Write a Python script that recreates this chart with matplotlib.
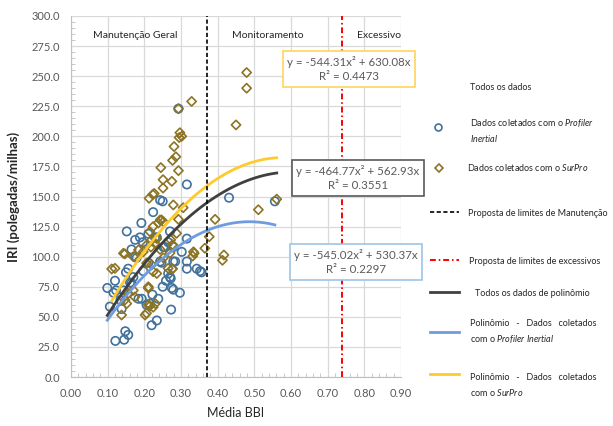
import numpy as np
import matplotlib
matplotlib.use("Agg")
import matplotlib.pyplot as plt
from matplotlib.lines import Line2D
from matplotlib.ticker import MultipleLocator, FormatStrFormatter

plt.rcParams['font.family'] = ['Lato', 'DejaVu Sans']
plt.rcParams['mathtext.fontset'] = 'custom'
plt.rcParams['mathtext.rm'] = 'Lato'
plt.rcParams['mathtext.it'] = 'Lato:italic'

# Profiler Inertial (circles)
pi_x = [0.099, 0.106, 0.120, 0.123, 0.121, 0.145, 0.148, 0.156, 0.152, 0.150,
        0.156, 0.138, 0.135, 0.175, 0.179, 0.192, 0.188, 0.170, 0.165, 0.193,
        0.197, 0.211, 0.224, 0.215, 0.222, 0.238, 0.220, 0.234, 0.247, 0.250,
        0.259, 0.265, 0.272, 0.275, 0.273, 0.279, 0.284, 0.279, 0.297, 0.316,
        0.316, 0.316, 0.302, 0.343, 0.352, 0.279, 0.265, 0.252, 0.234, 0.293,
        0.316, 0.243, 0.250, 0.431, 0.556, 0.270, 0.229, 0.196, 0.175, 0.116,
        0.143, 0.161, 0.243, 0.270, 0.206, 0.184, 0.165, 0.256, 0.356, 0.211]
pi_y = [74, 58.5, 80, 72, 30, 31, 38, 35, 121, 87,
        90, 56.5, 64, 114, 99, 128, 116, 83, 78, 65,
        88, 119, 137, 61, 68.5, 65, 43, 47, 95, 75,
        80, 86, 82, 74, 56, 72.6, 96, 96, 70, 115,
        96, 90, 104, 90, 88, 108, 112, 108, 116, 223,
        160, 147, 146, 149, 146, 121, 116, 112, 100, 70,
        72, 78.5, 96, 83, 60, 65, 106, 108, 87, 95]

# SurPro (diamonds)
sp_x = [0.329, 0.293, 0.297, 0.295, 0.302, 0.281, 0.286, 0.277, 0.293, 0.245,
        0.251, 0.275, 0.251, 0.213, 0.223, 0.227, 0.279, 0.306, 0.479, 0.479,
        0.450, 0.511, 0.561, 0.393, 0.243, 0.377, 0.365, 0.417, 0.413, 0.336,
        0.332, 0.288, 0.272, 0.277, 0.265, 0.276, 0.234, 0.211, 0.211, 0.215,
        0.206, 0.202, 0.224, 0.143, 0.147, 0.111, 0.120, 0.138, 0.147, 0.152,
        0.156, 0.170, 0.174, 0.170, 0.184, 0.197, 0.206, 0.215, 0.224, 0.238,
        0.247, 0.252, 0.220, 0.229, 0.234, 0.243, 0.252, 0.206, 0.220, 0.293,
        0.218, 0.270, 0.277, 0.334, 0.224, 0.211, 0.230]
sp_y = [229, 223, 203, 199, 200, 191.5, 183, 180, 171.5, 174,
        164, 162.6, 157, 148.5, 151.7, 152.5, 143, 140.7, 253, 240,
        209.5, 139, 147.8, 131, 130.5, 116.6, 107, 101.4, 97, 102.8,
        100.5, 119.4, 114, 110, 90.3, 89.8, 86, 73.7, 60, 59,
        53, 51.5, 58, 102.8, 102.3, 89.8, 90.3, 51.5, 64, 61,
        69.5, 72, 66.5, 100, 105.6, 104, 109.6, 120.8, 125, 128,
        130.5, 129, 114, 111, 115, 106, 99, 94.6, 93.2, 131,
        108, 103, 90, 104, 87.5, 75, 61]

# trend line coefficients (a*x^2 + b*x) and R2
fit_all = (-464.77, 562.93, 0.3551)
fit_pi = (-545.02, 530.37, 0.2297)
fit_sp = (-544.31, 630.08, 0.4473)

lim_manut = 0.37
lim_exc = 0.74

c_pi = '#41719C'
c_sp = '#8C7424'
c_all = '#404040'
c_pil = '#6F9BDF'
c_spl = '#FFCA2C'

fig = plt.figure(figsize=(6.13, 4.26), dpi=100)
ax = fig.add_axes([71 / 613, 1 - 377 / 426, 330 / 613, 361 / 426])

ax.scatter(pi_x, pi_y, s=36, marker='o', facecolors='none', edgecolors=c_pi, linewidths=1.2, zorder=3)
ax.scatter(sp_x, sp_y, s=22, marker='D', facecolors='none', edgecolors=c_sp, linewidths=1.2, zorder=3)


def curve(fit, xs):
    xx = np.linspace(min(xs), max(xs), 100)
    return xx, fit[0] * xx ** 2 + fit[1] * xx


xa, ya = curve(fit_all, pi_x + sp_x)
xb, yb = curve(fit_pi, pi_x)
xc, yc = curve(fit_sp, sp_x)
ax.plot(xb, yb, color=c_pil, lw=2, zorder=4)
ax.plot(xc, yc, color=c_spl, lw=2, zorder=4)
ax.plot(xa, ya, color=c_all, lw=2, zorder=4)

ax.axvline(lim_manut, color='black', lw=1.2, dashes=[2.5, 1.5], zorder=5)
ax.axvline(lim_exc, color='#FF0000', lw=1.4, dashes=[3, 1.5, 0.8, 1.5], zorder=5)

ax.set_xlim(0, 0.9)
ax.set_ylim(0, 300)
ax.xaxis.set_major_locator(MultipleLocator(0.1))
ax.xaxis.set_minor_locator(MultipleLocator(0.02))
ax.yaxis.set_major_locator(MultipleLocator(25))
ax.yaxis.set_minor_locator(MultipleLocator(5))
ax.xaxis.set_major_formatter(FormatStrFormatter('%.2f'))
ax.yaxis.set_major_formatter(FormatStrFormatter('%.1f'))
ax.grid(True, which='major', color='#D9D9D9', lw=0.9)
ax.set_axisbelow(True)
for s in ['top', 'right']:
    ax.spines[s].set_visible(False)
for s in ['left', 'bottom']:
    ax.spines[s].set_color('#BFBFBF')
ax.tick_params(which='major', length=0, pad=8, labelsize=8, labelcolor='#595959')
ax.tick_params(which='minor', direction='in', length=3, color='#BFBFBF')

ax.set_xlabel('Média BBI', fontsize=9, color='#262626', labelpad=6)
ax.set_ylabel('IRI (polegadas/milhas)', fontsize=9.5, color='#262626', fontweight='bold', labelpad=8)

ax.text(0.175, 284, 'Manutenção Geral', fontsize=7.5, ha='center', va='center', color='#262626')
ax.text(0.537, 284, 'Monitoramento', fontsize=7.5, ha='center', va='center', color='#262626')
ax.text(0.84, 284, 'Excessivo', fontsize=7.5, ha='center', va='center', color='#262626')


def px(x, y):
    return x / 613, 1 - y / 426


def eq_box(fit, pos, ec):
    txt = 'y = %.2fx² + %.2fx\nR² = %.4f' % fit
    fig.text(*px(*pos), txt, fontsize=8.3, ha='center', va='center', color='#595959',
             linespacing=1.35, multialignment='center', zorder=10,
             bbox=dict(boxstyle='square,pad=0.4', fc='white', ec=ec, lw=1.2))


eq_box(fit_sp, (349, 69), '#FFD45A')
eq_box(fit_all, (358, 178), '#595959')
eq_box(fit_pi, (356, 262), '#9DC3E6')

# legend
lfs = 6.5
lc = '#262626'
fig.text(*px(470, 87), 'Todos os dados', fontsize=lfs, va='center', color=lc)
fig.add_artist(Line2D([px(438, 0)[0]], [px(0, 127)[1]], marker='o', ms=5, mfc='none', mec=c_pi, mew=1.2,
                      transform=fig.transFigure))
fig.text(*px(470, 123), r'Dados coletados com o $\mathit{Profiler}$', fontsize=lfs, va='center', color=lc)
fig.text(*px(470, 139), r'$\mathit{Inertial}$', fontsize=lfs, va='center', color=lc)
fig.add_artist(Line2D([px(439, 0)[0]], [px(0, 168)[1]], marker='D', ms=3.6, mfc='none', mec=c_sp, mew=1.2,
                      transform=fig.transFigure))
fig.text(*px(467, 168), r'Dados coletados com o $\mathit{SurPro}$', fontsize=lfs, va='center', color=lc)

leg_lines = [
    (212, dict(color='black', lw=1.2, dashes=[2.5, 1.5]), 'Proposta de limites de Manutenção', 468),
    (260, dict(color='#FF0000', lw=1.4, dashes=[3, 1.5, 0.8, 1.5]), 'Proposta de limites de excessivos', 469),
    (292, dict(color=c_all, lw=2), 'Todos os dados de polinômio', 475),
    (332, dict(color=c_pil, lw=2), None, 470),
    (374, dict(color=c_spl, lw=2), None, 470),
]
for y, kw, lab, tx in leg_lines:
    fig.add_artist(Line2D([px(430, 0)[0], px(459, 0)[0]], [px(0, y)[1]] * 2, transform=fig.transFigure, **kw))
    if lab:
        fig.text(*px(tx, y + 1), lab, fontsize=lfs, va='center', color=lc)

fig.text(*px(470, 323), 'Polinômio   -   Dados   coletados', fontsize=lfs, va='center', color=lc)
fig.text(*px(470, 339), r'com o $\mathit{Profiler\ Inertial}$', fontsize=lfs, va='center', color=lc)
fig.text(*px(470, 378), 'Polinômio   -   Dados   coletados', fontsize=lfs, va='center', color=lc)
fig.text(*px(470, 393), r'com o $\mathit{SurPro}$', fontsize=lfs, va='center', color=lc)

fig.savefig('out.png', dpi=100, facecolor='white')
